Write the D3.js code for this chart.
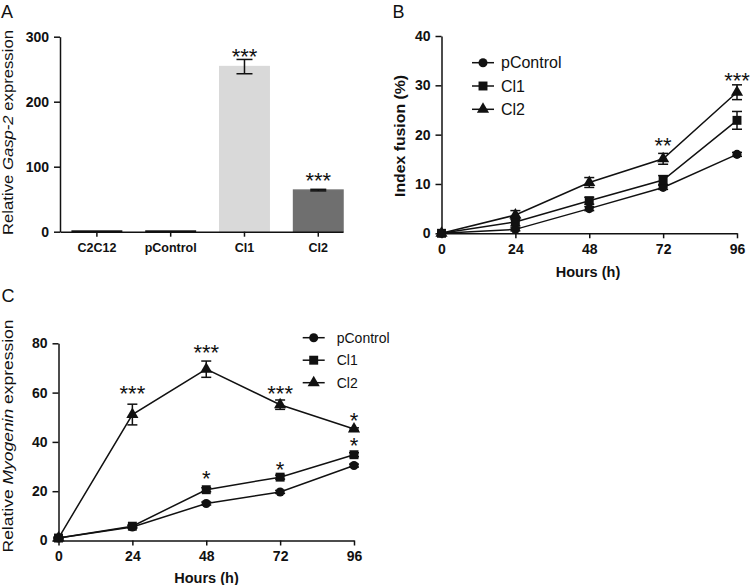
<!DOCTYPE html>
<html lang="en">
<head>
  <meta charset="UTF-8">
  <title>Gasp-2 expression, fusion index and Myogenin expression</title>
  <script src="https://d3js.org/d3.v7.min.js"></script>
  <style>
    body { margin: 0; background: #fff; }
    svg { display: block; font-family: "Liberation Sans", Arial, sans-serif; }
    .axis path, .axis line { stroke: #111; stroke-width: 1.5; }
    .axis text { font-size: 14px; font-weight: bold; fill: #111; }
  </style>
</head>
<body>
  <svg id="chart"></svg>

  <script>
    // ---- data ----
    // panel A: relative Gasp-2 expression
    const barCategories = ["C2C12", "pControl", "Cl1", "Cl2"];
    const gaspValues = [1, 1, 254, 64];
    const gaspErrors = [0.3, 0.3, 11, 1.2];
    const barColors = ["#111", "#111", "#d9d9d9", "#6f6f6f"];
    const barStars = ["", "", "***", "***"];
    const barStarY = [0, 0, 257.5, 66.5];
    const gaspTicks = [0, 100, 200, 300];

    // shared x values for B and C
    const hours = [0, 24, 48, 72, 96];
    const seriesNames = ["pControl", "Cl1", "Cl2"];

    // panel B: index fusion (%)
    const fusionPControl = [0, 0.8, 5.0, 9.3, 16.0];
    const fusionCl1 = [0, 2.3, 6.6, 10.8, 22.9];
    const fusionCl2 = [0, 3.7, 10.3, 15.1, 28.6];
    const fusionErrPControl = [0, 0.3, 0.4, 0.4, 0.4];
    const fusionErrCl1 = [0, 0.8, 0.7, 0.9, 1.8];
    const fusionErrCl2 = [0, 0.9, 1.0, 1.1, 1.5];
    const fusionStars = [
      { hour: 72, text: "**", y: 16.2 },
      { hour: 96, text: "***", y: 29.4 }
    ];
    const fusionTicks = [0, 10, 20, 30, 40];

    // panel C: relative Myogenin expression
    const myoPControl = [1, 5.5, 15.0, 19.7, 30.4];
    const myoCl1 = [1, 5.8, 20.6, 25.7, 34.8];
    const myoCl2 = [1, 51.1, 69.5, 55.1, 45.2];
    const myoErrPControl = [0.3, 0.5, 0.6, 0.6, 0.6];
    const myoErrCl1 = [0.3, 0.5, 0.8, 0.8, 0.8];
    const myoErrCl2 = [0.3, 4.2, 3.3, 1.9, 0.5];
    const myoStars = [
      { hour: 24, text: "***", y: 56.6 },
      { hour: 48, text: "***", y: 73.2 },
      { hour: 72, text: "***", y: 56.6 },
      { hour: 96, text: "*", y: 45.6 },
      { hour: 96, text: "*", y: 35.6 },
      { hour: 48, text: "*", y: 22.0 },
      { hour: 72, text: "*", y: 25.6 }
    ];
    const myoTicks = [0, 20, 40, 60, 80];

    const width = 750, height = 585;
    const ink = "#111";

    const svg = d3.select("#chart").attr("width", width).attr("height", height);

    const symbols = [d3.symbolCircle, d3.symbolSquare, d3.symbolTriangle];
    const symbolSizes = [64, 80, 64];

    function panelLetter(letter, x, y) {
      svg.append("text").attr("x", x).attr("y", y)
        .attr("font-size", 18).attr("fill", ink).text(letter);
    }

    function yLabel(x, y, parts, len, size, bold) {
      const t = svg.append("text")
        .attr("transform", `translate(${x},${y}) rotate(-90)`)
        .attr("text-anchor", "middle")
        .attr("font-size", size)
        .attr("font-weight", bold ? "bold" : "normal")
        .attr("fill", ink)
        .attr("textLength", len)
        .attr("lengthAdjust", "spacingAndGlyphs");
      parts.forEach(p => t.append("tspan").attr("font-style", p.italic ? "italic" : null).text(p.text));
    }

    function xLabel(x, y, text) {
      svg.append("text").attr("x", x).attr("y", y)
        .attr("text-anchor", "middle").attr("font-size", 14.5)
        .attr("font-weight", "bold").attr("fill", ink).text(text);
    }

    function stars(g, data, x, y) {
      g.selectAll("text.star").data(data).join("text")
        .attr("class", "star")
        .attr("x", d => x(d.hour))
        .attr("y", d => y(d.y))
        .attr("text-anchor", "middle")
        .attr("font-size", 22)
        .attr("fill", ink)
        .text(d => d.text);
    }

    // ---------- panel A ----------
    const xA = d3.scaleBand().domain(barCategories).range([60, 343])
      .paddingInner(0.33).paddingOuter(0.0824).align(1);
    const yA = d3.scaleLinear().domain([0, 300]).range([231.7, 36.7]);
    const gA = svg.append("g");
    const barData = barCategories.map((c, i) => ({ c, v: gaspValues[i], e: gaspErrors[i], col: barColors[i], s: barStars[i], sy: barStarY[i] }));

    gA.selectAll("rect.bar").data(barData).join("rect")
      .attr("class", "bar")
      .attr("x", d => xA(d.c))
      .attr("y", d => yA(d.v))
      .attr("width", xA.bandwidth())
      .attr("height", d => yA(0) - yA(d.v))
      .attr("fill", d => d.col)
      .attr("stroke", d => d.col)
      .attr("stroke-width", 1.5);

    const errA = gA.selectAll("g.err").data(barData.filter(d => d.e > 1)).join("g").attr("class", "err")
      .attr("stroke", ink).attr("stroke-width", 1.5);
    errA.append("line")
      .attr("x1", d => xA(d.c) + xA.bandwidth() / 2).attr("x2", d => xA(d.c) + xA.bandwidth() / 2)
      .attr("y1", d => yA(d.v + d.e)).attr("y2", d => yA(d.v - d.e));
    errA.append("line")
      .attr("x1", d => xA(d.c) + xA.bandwidth() / 2 - 8).attr("x2", d => xA(d.c) + xA.bandwidth() / 2 + 8)
      .attr("y1", d => yA(d.v + d.e)).attr("y2", d => yA(d.v + d.e));
    errA.append("line")
      .attr("x1", d => xA(d.c) + xA.bandwidth() / 2 - 8).attr("x2", d => xA(d.c) + xA.bandwidth() / 2 + 8)
      .attr("y1", d => yA(d.v - d.e)).attr("y2", d => yA(d.v - d.e));

    gA.selectAll("text.star").data(barData.filter(d => d.s)).join("text")
      .attr("class", "star")
      .attr("x", d => xA(d.c) + xA.bandwidth() / 2)
      .attr("y", d => yA(d.sy))
      .attr("text-anchor", "middle").attr("font-size", 22)
      .attr("fill", ink)
      .text(d => d.s);

    gA.append("g").attr("class", "axis").attr("transform", "translate(0,231.7)")
      .call(d3.axisBottom(xA).tickSize(5).tickSizeOuter(0).tickPadding(6))
      .selectAll("text").style("font-size", "12.5px");
    gA.append("g").attr("class", "axis").attr("transform", "translate(60,0)")
      .call(d3.axisLeft(yA).tickValues(gaspTicks).tickSize(6).tickSizeOuter(0).tickPadding(5));

    panelLetter("A", 1, 18);
    yLabel(12.5, 132.5, [{ text: "Relative " }, { text: "Gasp-2", italic: true }, { text: " expression" }], 205, 15, false);

    // ---------- line panels (B, C) ----------
    function linePanel(opt) {
      const x = d3.scaleLinear().domain([0, 96]).range(opt.xRange);
      const y = d3.scaleLinear().domain(opt.yDomain).range(opt.yRange);
      const g = svg.append("g");
      const series = seriesNames.map((name, i) => ({
        name, i,
        pts: hours.map((h, j) => ({ h, v: opt.values[i][j], e: opt.errors[i][j] }))
      }));

      g.append("g").attr("class", "axis").attr("transform", `translate(0,${opt.yRange[0]})`)
        .call(d3.axisBottom(x).tickValues(hours).tickSize(5).tickSizeOuter(0).tickPadding(6));
      g.append("g").attr("class", "axis").attr("transform", `translate(${opt.xRange[0]},0)`)
        .call(d3.axisLeft(y).tickValues(opt.yTicks).tickSize(6).tickSizeOuter(0).tickPadding(5));

      // error bars
      series.forEach(s => {
        const eg = g.append("g").attr("stroke", ink).attr("stroke-width", 1.5);
        const pts = s.pts.filter(p => p.e > 0);
        eg.selectAll("line.v").data(pts).join("line").attr("class", "v")
          .attr("x1", p => x(p.h)).attr("x2", p => x(p.h))
          .attr("y1", p => y(p.v + p.e)).attr("y2", p => y(p.v - p.e));
        eg.selectAll("line.t").data(pts).join("line").attr("class", "t")
          .attr("x1", p => x(p.h) - 5).attr("x2", p => x(p.h) + 5)
          .attr("y1", p => y(p.v + p.e)).attr("y2", p => y(p.v + p.e));
        eg.selectAll("line.b").data(pts).join("line").attr("class", "b")
          .attr("x1", p => x(p.h) - 5).attr("x2", p => x(p.h) + 5)
          .attr("y1", p => y(p.v - p.e)).attr("y2", p => y(p.v - p.e));
      });

      const line = d3.line().x(p => x(p.h)).y(p => y(p.v));
      g.selectAll("path.series").data(series).join("path").attr("class", "series")
        .attr("d", s => line(s.pts)).attr("fill", "none")
        .attr("stroke", ink).attr("stroke-width", 1.5);

      series.forEach(s => {
        g.selectAll(null).data(s.pts).join("path")
          .attr("transform", p => `translate(${x(p.h)},${y(p.v)})`)
          .attr("d", d3.symbol().type(symbols[s.i]).size(symbolSizes[s.i]))
          .attr("fill", ink);
      });

      stars(g, opt.stars, x, y);

      // legend
      const lg = svg.append("g").attr("transform", `translate(${opt.legend.x},${opt.legend.y})`);
      const rows = lg.selectAll("g").data(series).join("g")
        .attr("transform", (s, i) => `translate(0,${i * opt.legend.step})`);
      rows.append("line").attr("x1", 0).attr("x2", 22).attr("stroke", ink).attr("stroke-width", 1.5);
      rows.append("path").attr("transform", "translate(11,0)")
        .attr("d", s => d3.symbol().type(symbols[s.i]).size(symbolSizes[s.i])())
        .attr("fill", ink);
      rows.append("text").attr("x", opt.legend.textX).attr("dy", "0.35em")
        .attr("font-size", opt.legend.size).attr("fill", ink).text(s => s.name);
    }

    linePanel({
      xRange: [441.5, 737], yRange: [233.3, 36], yDomain: [0, 40], yTicks: fusionTicks,
      values: [fusionPControl, fusionCl1, fusionCl2],
      errors: [fusionErrPControl, fusionErrCl1, fusionErrCl2],
      stars: fusionStars,
      legend: { x: 472, y: 62.7, step: 23.3, textX: 29, size: 16 }
    });
    panelLetter("B", 392.5, 18.3);
    yLabel(405, 136, [{ text: "Index fusion (%)" }], 122, 15.5, true);
    xLabel(588, 276.5, "Hours (h)");

    linePanel({
      xRange: [58.5, 354], yRange: [540.5, 343.3], yDomain: [0, 80], yTicks: myoTicks,
      values: [myoPControl, myoCl1, myoCl2],
      errors: [myoErrPControl, myoErrCl1, myoErrCl2],
      stars: myoStars,
      legend: { x: 302.7, y: 337.7, step: 22.5, textX: 34, size: 14 }
    });
    panelLetter("C", 1.5, 302);
    yLabel(13, 436, [{ text: "Relative " }, { text: "Myogenin", italic: true }, { text: " expression" }], 233, 15.5, false);
    xLabel(206.5, 583, "Hours (h)");
  </script>
</body>
</html>
